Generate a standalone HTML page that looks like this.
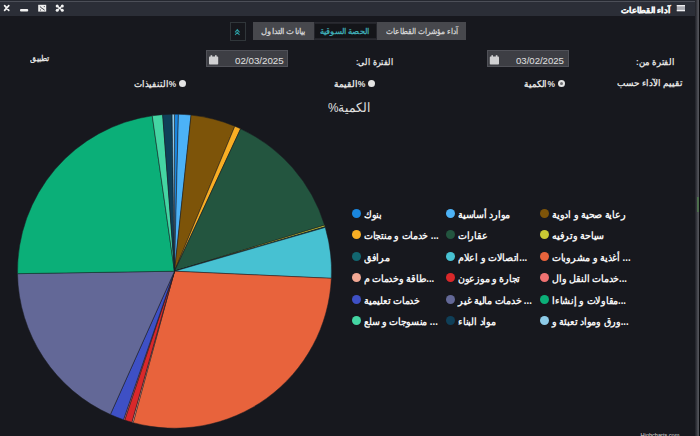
<!DOCTYPE html>
<html><head><meta charset="utf-8">
<style>
html,body{margin:0;padding:0;}
body{width:700px;height:436px;overflow:hidden;background:#17181e;position:relative;font-family:"Liberation Sans",sans-serif;color:#e6e6e6;}
.t{position:absolute;white-space:nowrap;line-height:1;transform-origin:0 0;}
#titlebar{position:absolute;left:0;top:0;width:697px;height:16px;background:#2b2e37;border-top:1px solid #252830;box-sizing:border-box;}
#tline{position:absolute;left:0;top:1px;width:697px;height:1px;background:#4c4f58;}
#rborder{position:absolute;left:695px;top:0;width:4px;height:436px;background:linear-gradient(to right,#1f2027,#2e2f36 30%,#45464d 60%,#56575d);}
#redge{position:absolute;left:699px;top:0;width:1px;height:436px;background:#0c0c10;}
#rgreen{position:absolute;left:696.5px;top:197px;width:2.5px;height:15px;background:#4d6e4d;}
.lm{position:absolute;width:9px;height:9px;border-radius:50%;}
.lt{position:absolute;white-space:nowrap;font-size:10px;font-weight:bold;color:#f4f4f4;line-height:16px;transform:scaleX(0.95);transform-origin:0 0;}
.tab{position:absolute;top:21.6px;height:18.2px;background:#47484d;}
.dinput{position:absolute;top:50px;width:82px;height:17px;background:#3d3e44;border:1px solid #505158;box-sizing:border-box;}
.cal{position:absolute;top:55px;width:9px;height:9px;}
.radio{position:absolute;width:7px;height:7px;border-radius:50%;background:#e4e4e4;}
</style></head><body>
<div id="titlebar"></div><div id="tline"></div>
<div id="rborder"></div><div id="redge"></div>
<div id="rgreen"></div>

<svg style="position:absolute;left:0;top:0" width="700" height="20">
<!-- close x -->
<path d="M4.6,5.6 L8.8,10.4 M8.8,5.6 L4.6,10.4" stroke="#f2f2f2" stroke-width="1.7" stroke-linecap="round"/>
<!-- minimize -->
<rect x="20" y="9" width="8.2" height="2.6" rx="1" fill="#f2f2f2"/>
<!-- restore -->
<rect x="38.2" y="4.8" width="8" height="6.8" fill="#eeeeee"/>
<path d="M40.2,6.8 L42,8.4 M44.2,6.6 L44.4,6.6 M40.4,10 L40.6,10 M42.6,8.6 L44.4,10" stroke="#2b2e37" stroke-width="0.9" stroke-linecap="round"/>
<!-- expand -->
<path d="M57,5.8 L62.4,10.6 M62.4,5.8 L57,10.6" stroke="#f2f2f2" stroke-width="1.3"/>
<circle cx="57.2" cy="6.0" r="1.5" fill="#f2f2f2"/><circle cx="62.3" cy="6.0" r="1.5" fill="#f2f2f2"/>
<circle cx="57.2" cy="10.3" r="1.5" fill="#f2f2f2"/><circle cx="62.3" cy="10.3" r="1.5" fill="#f2f2f2"/>
<!-- hamburger -->
<rect x="676.8" y="5" width="8.2" height="6.2" fill="#a9abb2"/>
<rect x="676.8" y="5" width="8.2" height="1.3" fill="#eeeef0"/>
<rect x="676.8" y="9.9" width="8.2" height="1.3" fill="#eeeef0"/>
</svg>

<div style="position:absolute;left:230px;top:21.6px;width:16px;height:19.5px;border:1px solid #30363a;box-sizing:border-box;background:#16171c"></div>
<svg style="position:absolute;left:0;top:0" width="260" height="50">
<path d="M235.1,32.3 L237.3,29.6 L239.5,32.3 M235.1,35 L237.3,32.3 L239.5,35" fill="none" stroke="#2b9da2" stroke-width="1.1"/>
</svg>
<div style="position:absolute;left:253px;top:21.6px;width:213px;height:18.2px;background:#2a2b31"></div>
<div class="tab" style="left:253px;width:60.5px;"></div>
<div style="position:absolute;left:313.8px;top:22.6px;width:63.4px;height:16.6px;background:#141519;border:1px solid #24252b;box-sizing:border-box"></div>
<div class="tab" style="left:377px;width:89px;"></div>

<div class="dinput" style="left:206px;"></div>
<div class="dinput" style="left:487px;"></div>
<svg style="position:absolute;left:0;top:0" width="600" height="70">
<g fill="#d0d0d2">
<rect x="209" y="56.6" width="9.2" height="8" rx="0.8"/><rect x="210.6" y="55.2" width="1.6" height="2.4"/><rect x="215" y="55.2" width="1.6" height="2.4"/>
<rect x="489.8" y="56.6" width="9.2" height="8" rx="0.8"/><rect x="491.4" y="55.2" width="1.6" height="2.4"/><rect x="495.8" y="55.2" width="1.6" height="2.4"/>
</g>
</svg>

<div class="radio" style="left:179px;top:80px;"></div>
<div class="radio" style="left:368px;top:80px;"></div>
<div class="radio" style="left:558px;top:80px;"><div style="position:absolute;left:2px;top:2px;width:3px;height:3px;border-radius:50%;background:#707074"></div></div>

<div class="t" style="left:640.5px;top:433.1px;font-size:5.6px;color:#dcdcdc">Highcharts.com</div>

<svg style="position:absolute;left:0;top:0" width="700" height="436">
<g stroke="#1b1c22" stroke-width="0.5" stroke-linejoin="round">
<path d="M174.5,271.2 L174.50,114.20 A157.0,157.0 0 0 1 178.42,114.25 Z" fill="#1a86de"/>
<path d="M174.5,271.2 L178.42,114.25 A157.0,157.0 0 0 1 191.05,115.07 Z" fill="#4cb2f7"/>
<path d="M174.5,271.2 L191.05,115.07 A157.0,157.0 0 0 1 234.83,126.26 Z" fill="#7d5409"/>
<path d="M174.5,271.2 L234.83,126.26 A157.0,157.0 0 0 1 240.60,128.79 Z" fill="#f8ae24"/>
<path d="M174.5,271.2 L240.60,128.79 A157.0,157.0 0 0 1 324.60,225.17 Z" fill="#23553f"/>
<path d="M174.5,271.2 L324.60,225.17 A157.0,157.0 0 0 1 325.07,226.74 Z" fill="#c8c934"/>
<path d="M174.5,271.2 L325.07,226.74 A157.0,157.0 0 0 1 325.27,227.40 Z" fill="#126670"/>
<path d="M174.5,271.2 L325.27,227.40 A157.0,157.0 0 0 1 331.34,278.32 Z" fill="#47c1d2"/>
<path d="M174.5,271.2 L331.34,278.32 A157.0,157.0 0 0 1 133.07,422.64 Z" fill="#e8633c"/>
<path d="M174.5,271.2 L133.20,422.67 A157.0,157.0 0 0 1 131.88,422.31 Z" fill="#f2a894"/>
<path d="M174.5,271.2 L131.88,422.31 A157.0,157.0 0 0 1 124.68,420.09 Z" fill="#d9282a"/>
<path d="M174.5,271.2 L124.68,420.09 A157.0,157.0 0 0 1 123.52,419.69 Z" fill="#f07272"/>
<path d="M174.5,271.2 L123.52,419.69 A157.0,157.0 0 0 1 110.39,414.51 Z" fill="#3e50c5"/>
<path d="M174.5,271.2 L110.39,414.51 A157.0,157.0 0 0 1 17.52,273.67 Z" fill="#636897"/>
<path d="M174.5,271.2 L17.52,273.67 A157.0,157.0 0 0 1 152.24,115.79 Z" fill="#0baf78"/>
<path d="M174.5,271.2 L152.24,115.79 A157.0,157.0 0 0 1 162.65,114.65 Z" fill="#44d5a3"/>
<path d="M174.5,271.2 L162.65,114.65 A157.0,157.0 0 0 1 172.09,114.22 Z" fill="#0f3f58"/>
<path d="M174.5,271.2 L172.09,114.22 A157.0,157.0 0 0 1 174.50,114.20 Z" fill="#8dcbe8"/>
</g>
</svg>
<div class="lm" style="left:351.5px;top:208.9px;background:#1a86de"></div>
<div class="lt" style="left:363.5px;top:206.7px">بنوك</div>
<div class="lm" style="left:445.5px;top:208.9px;background:#4cb2f7"></div>
<div class="lt" style="left:457.5px;top:206.7px">موارد أساسية</div>
<div class="lm" style="left:539.9px;top:208.9px;background:#7d5409"></div>
<div class="lt" style="left:551.9px;top:206.7px">رعاية صحية و ادوية</div>
<div class="lm" style="left:351.5px;top:230.4px;background:#f8ae24"></div>
<div class="lt" style="left:363.5px;top:228.2px">خدمات و منتجات ...</div>
<div class="lm" style="left:445.5px;top:230.4px;background:#23553f"></div>
<div class="lt" style="left:457.5px;top:228.2px">عقارات</div>
<div class="lm" style="left:539.9px;top:230.4px;background:#c8c934"></div>
<div class="lt" style="left:551.9px;top:228.2px">سياحة وترفيه</div>
<div class="lm" style="left:351.5px;top:251.9px;background:#126670"></div>
<div class="lt" style="left:363.5px;top:249.7px">مرافق</div>
<div class="lm" style="left:445.5px;top:251.9px;background:#47c1d2"></div>
<div class="lt" style="left:457.5px;top:249.7px">اتصالات و اعلام...</div>
<div class="lm" style="left:539.9px;top:251.9px;background:#e8633c"></div>
<div class="lt" style="left:551.9px;top:249.7px">أغذية و مشروبات ...</div>
<div class="lm" style="left:351.5px;top:273.4px;background:#f2a894"></div>
<div class="lt" style="left:363.5px;top:271.2px">طاقة وخدمات م...</div>
<div class="lm" style="left:445.5px;top:273.4px;background:#d9282a"></div>
<div class="lt" style="left:457.5px;top:271.2px">تجارة و موزعون</div>
<div class="lm" style="left:539.9px;top:273.4px;background:#f07272"></div>
<div class="lt" style="left:551.9px;top:271.2px">خدمات النقل وال...</div>
<div class="lm" style="left:351.5px;top:294.9px;background:#3e50c5"></div>
<div class="lt" style="left:363.5px;top:292.7px">خدمات تعليمية</div>
<div class="lm" style="left:445.5px;top:294.9px;background:#636897"></div>
<div class="lt" style="left:457.5px;top:292.7px">خدمات مالية غير ...</div>
<div class="lm" style="left:539.9px;top:294.9px;background:#0baf78"></div>
<div class="lt" style="left:551.9px;top:292.7px">مقاولات و إنشاءا...</div>
<div class="lm" style="left:351.5px;top:316.4px;background:#44d5a3"></div>
<div class="lt" style="left:363.5px;top:314.2px">منسوجات و سلع ...</div>
<div class="lm" style="left:445.5px;top:316.4px;background:#0f3f58"></div>
<div class="lt" style="left:457.5px;top:314.2px">مواد البناء</div>
<div class="lm" style="left:539.9px;top:316.4px;background:#8dcbe8"></div>
<div class="lt" style="left:551.9px;top:314.2px">ورق ومواد تعبئة و...</div>
<div class="t" dir="rtl" style="left:621.3px;top:6.65px;font-size:8.2px;transform:scaleX(1.057);font-weight:bold;color:#f4f4f4;-webkit-text-stroke:0.35px #f4f4f4;">آداء القطاعات</div>
<div class="t" dir="rtl" style="left:260.6px;top:27.75px;font-size:8.0px;transform:scaleX(1.05);font-weight:bold;color:#cfcfd0;">بيانات التداول</div>
<div class="t" dir="rtl" style="left:320.1px;top:27.55px;font-size:8.0px;transform:scaleX(1.04);font-weight:bold;color:#3eaab3;">الحصة السوقية</div>
<div class="t" dir="rtl" style="left:385.8px;top:28.25px;font-size:8.0px;transform:scaleX(0.931);font-weight:bold;color:#cfcfd0;">آداء مؤشرات القطاعات</div>
<div class="t" dir="rtl" style="left:30.0px;top:55.15px;font-size:8.0px;transform:scaleX(0.965);font-weight:bold;color:#e4e4e4;">تطبيق</div>
<div class="t" dir="rtl" style="left:355.53px;top:57.85px;font-size:8.6px;transform:scaleX(0.871);font-weight:bold;color:#e4e4e4;">الفترة الى:</div>
<div class="t" dir="rtl" style="left:635.86px;top:57.55px;font-size:8.6px;transform:scaleX(0.938);font-weight:bold;color:#e4e4e4;">الفترة من:</div>
<div class="t" dir="rtl" style="left:133.5px;top:80.0px;font-size:8.6px;transform:scaleX(0.966);font-weight:bold;color:#e4e4e4;">%التنفيذات</div>
<div class="t" dir="rtl" style="left:333.6px;top:79.5px;font-size:8.6px;transform:scaleX(0.991);font-weight:bold;color:#e4e4e4;">%القيمة</div>
<div class="t" dir="rtl" style="left:523.6px;top:79.5px;font-size:8.6px;transform:scaleX(0.975);font-weight:bold;color:#e4e4e4;">%الكمية</div>
<div class="t" dir="rtl" style="left:617.0px;top:79.25px;font-size:8.6px;transform:scaleX(0.984);font-weight:bold;color:#e4e4e4;">تقييم الآداء حسب</div>
<div class="t" dir="ltr" style="left:327.9px;top:101.9px;font-size:12.5px;transform:scaleX(0.941);font-weight:normal;color:#e0e0e0;">%الكمية</div>
<div class="t" dir="ltr" style="left:235.0px;top:56.0px;font-size:9.6px;transform:scaleX(1.013);font-weight:normal;color:#e0e0e0;">02/03/2025</div>
<div class="t" dir="ltr" style="left:516.4px;top:55.85px;font-size:9.6px;transform:scaleX(0.998);font-weight:normal;color:#e0e0e0;">03/02/2025</div>
</body></html>
